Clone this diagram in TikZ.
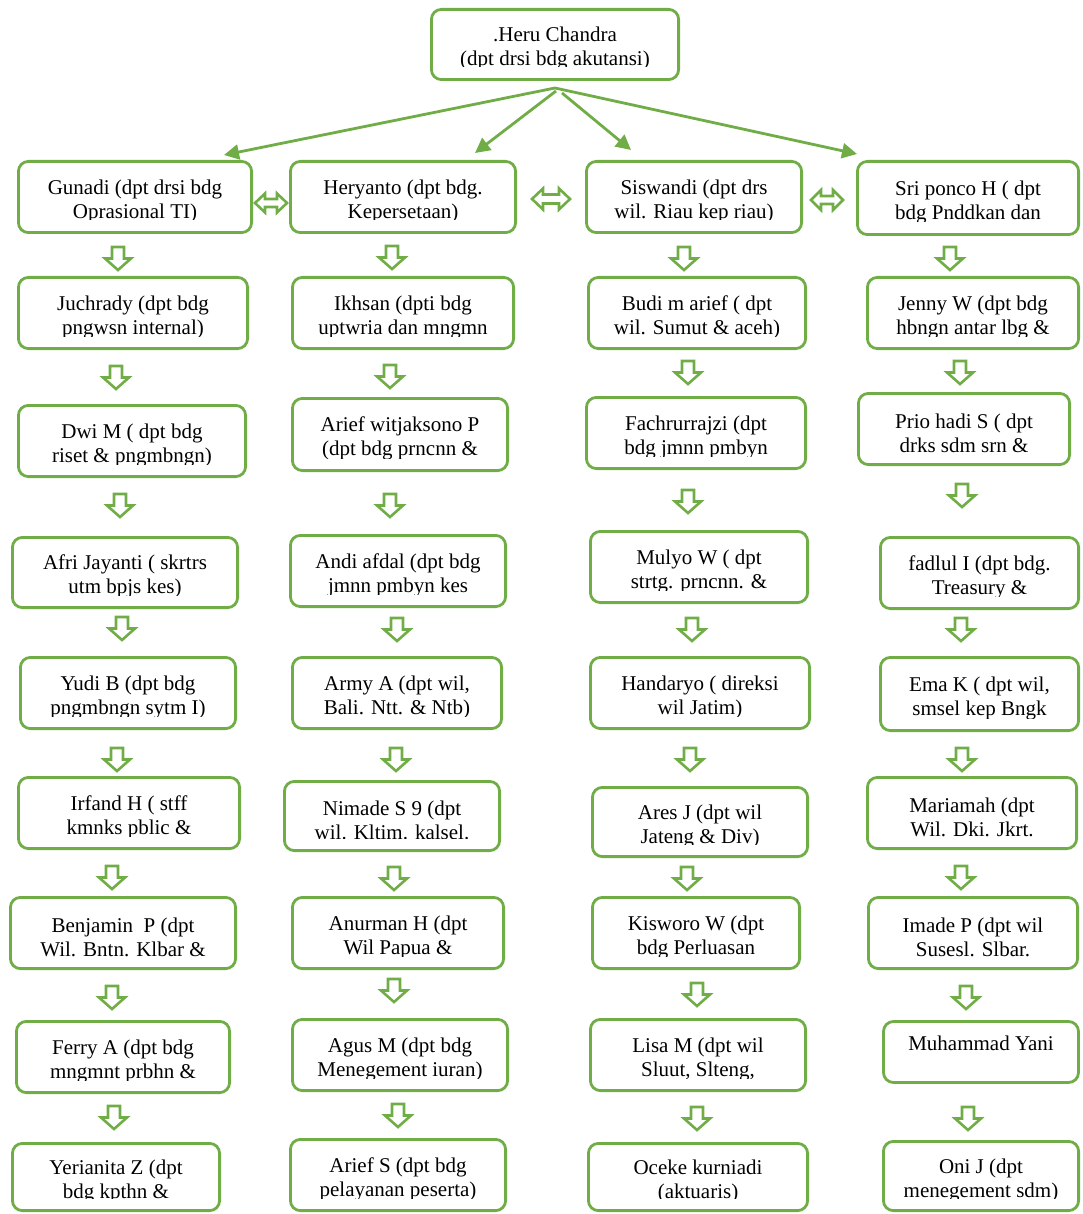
\documentclass[tikz,border=0pt]{standalone}
\usepackage{fontspec}
\setmainfont{Liberation Serif}
\usetikzlibrary{arrows.meta}
\definecolor{og}{HTML}{70AD47}
\tikzset{
  box/.style={draw=og, line width=2.8pt, rounded corners=10pt, inner sep=0pt},
  txt/.style={align=center, font=\fontsize{21}{24}\selectfont, inner sep=0pt, text=black},
  toparrow/.style={draw=og, line width=2.8pt, -{Triangle[length=15pt,width=15pt]}},
  blockarrow/.style={draw=og, line width=2.6pt, line join=miter},
  pics/downarr/.style={code={\draw[blockarrow] (-6,0) -- (6,0) -- (6,11.5) -- (13,11.5) -- (0,23) -- (-13,11.5) -- (-6,11.5) -- cycle;}},
  pics/dblarr/.style n args={4}{code={\draw[blockarrow] (-#1,0) -- (-#1+#2,-#3) -- (-#1+#2,-#4) -- (#1-#2,-#4) -- (#1-#2,-#3) -- (#1,0) -- (#1-#2,#3) -- (#1-#2,#4) -- (-#1+#2,#4) -- (-#1+#2,#3) -- cycle;}},
}
\newcommand\orgbox[7]{%
  \node[box, minimum width={#4pt-2.8pt}, minimum height={#5pt-2.8pt}] (#1) at (#2,#3) {};
  \begin{scope}
    \clip ({#2-#4/2},{#3-#5/2}) rectangle ({#2+#4/2},{#3+#5/2-14});
    \node[txt, yshift=-4pt] (#1t) at (#1.center) {#6\\#7};
  \end{scope}}
\begin{document}
\begin{tikzpicture}[x=1pt, y=-1pt]
\useasboundingbox (0,0) rectangle (1082,1214);

% top
\orgbox{top}{555}{44.5}{250}{73}{.Heru Chandra}{(dpt drsi bdg akutansi)}

% column 1
\orgbox{g1}{135}{197}{236}{74}{Gunadi (dpt drsi bdg}{Oprasional TI)}
\orgbox{g2}{133}{313}{232}{74}{Juchrady (dpt bdg}{pngwsn internal)}
\orgbox{g3}{132}{441}{230}{74}{Dwi M ( dpt bdg}{riset \& pngmbngn)}
\orgbox{g4}{125}{572.5}{228}{73}{Afri Jayanti ( skrtrs}{utm bpjs kes)}
\orgbox{g5}{128}{693}{218}{74}{Yudi B (dpt bdg}{pngmbngn sytm I)}
\orgbox{g6}{129}{813}{224}{74}{Irfand H ( stff}{kmnks pblic \&}
\orgbox{g7}{123}{933}{228}{74}{Benjamin~ P (dpt}{Wil. Bntn. Klbar \&}
\orgbox{g8}{123}{1057}{216}{74}{Ferry A (dpt bdg}{mngmnt prbhn \&}
\orgbox{g9}{116}{1177}{210}{70}{Yerianita Z (dpt}{bdg kpthn \&}

% column 2
\orgbox{h1}{403}{197}{228}{74}{Heryanto (dpt bdg.}{Kepersetaan)}
\orgbox{h2}{403}{313}{224}{74}{Ikhsan (dpti bdg}{uptwria dan mngmn}
\orgbox{h3}{400}{434.5}{218}{75}{Arief witjaksono P}{(dpt bdg prncnn \&}
\orgbox{h4}{398}{571}{218}{74}{Andi afdal (dpt bdg}{jmnn pmbyn kes}
\orgbox{h5}{397}{693}{212}{74}{Army A (dpt wil,}{Bali. Ntt. \& Ntb)}
\orgbox{h6}{392}{816}{218}{72}{Nimade S 9 (dpt}{wil. Kltim. kalsel.}
\orgbox{h7}{398}{933}{214}{74}{Anurman H (dpt}{Wil Papua \&}
\orgbox{h8}{400}{1055}{218}{74}{Agus M (dpt bdg}{Menegement iuran)}
\orgbox{h9}{398}{1175}{218}{74}{Arief S (dpt bdg}{pelayanan peserta)}

% column 3
\orgbox{s1}{694}{197}{218}{74}{Siswandi (dpt drs}{wil. Riau kep riau)}
\orgbox{s2}{697}{313}{220}{74}{Budi m arief ( dpt}{wil. Sumut \& aceh)}
\orgbox{s3}{696}{433}{222}{74}{Fachrurrajzi (dpt}{bdg jmnn pmbyn}
\orgbox{s4}{699}{567}{220}{74}{Mulyo W ( dpt}{strtg. prncnn. \&}
\orgbox{s5}{700}{693}{222}{74}{Handaryo ( direksi}{wil Jatim)}
\orgbox{s6}{700}{822}{218}{72}{Ares J (dpt wil}{Jateng \& Div)}
\orgbox{s7}{696}{933}{210}{74}{Kisworo W (dpt}{bdg Perluasan}
\orgbox{s8}{698}{1055}{218}{74}{Lisa M (dpt wil}{Sluut, Slteng,}
\orgbox{s9}{698}{1177}{222}{70}{Oceke kurniadi}{(aktuaris)}

% column 4
\orgbox{p1}{968}{198}{224}{76}{Sri ponco H ( dpt}{bdg Pnddkan dan}
\orgbox{p2}{973}{313}{214}{74}{Jenny W (dpt bdg}{hbngn antar lbg \&}
\orgbox{p3}{964}{429}{214}{74}{Prio hadi S ( dpt}{drks sdm srn \&}
\orgbox{p4}{979.5}{573}{201}{74}{fadlul I (dpt bdg.}{Treasury \&}
\orgbox{p5}{979.5}{694}{201}{76}{Ema K ( dpt wil,}{smsel kep Bngk}
\orgbox{p6}{972}{813}{212}{74}{Mariamah (dpt}{Wil. Dki. Jkrt.}
\orgbox{p7}{973}{933}{212}{74}{Imade P (dpt wil}{Susesl. Slbar.}
\node[box, minimum width=195pt, minimum height=61pt] (p8) at (981,1052) {};
\node[txt, yshift=9pt] (p8t) at (p8.center) {Muhammad Yani};
\orgbox{p9}{981}{1176}{198}{72}{Oni J (dpt}{menegement sdm)}

% top connectors
\coordinate (src1) at (555,88);
\coordinate (src2) at (556,91);
\coordinate (src3) at (562,93);
\coordinate (e1) at (224,155);
\coordinate (e2) at (475,153);
\coordinate (e3) at (631,150);
\coordinate (e4) at (857,154);
\draw[toparrow] (src1) -- (e1);
\draw[toparrow] (src2) -- (e2);
\draw[toparrow] (src3) -- (e3);
\draw[toparrow] (src1) -- (e4);

% double arrows between first row
\pic at (271,203) {dblarr={16}{10}{9.5}{4}};
\pic at (551,199) {dblarr={19}{11}{10.5}{4.5}};
\pic at (827,200) {dblarr={16}{10}{10}{4}};

% down block arrows
\foreach \x/\y in {118/247,116/366,120/494,122/617,117/748,112/866,112/986,114/1106,
                   392/246,390/365,390/494,397/618,396/748,394/867,394/979,398/1104,
                   684/247,688/361,688/490,692/618,690/748,687/867,697/983,697/1107,
                   950/247,960/361,962/484,961/618,962/748,961/866,966/986,968/1107}
  \pic at (\x,\y) {downarr};
\end{tikzpicture}
\end{document}
